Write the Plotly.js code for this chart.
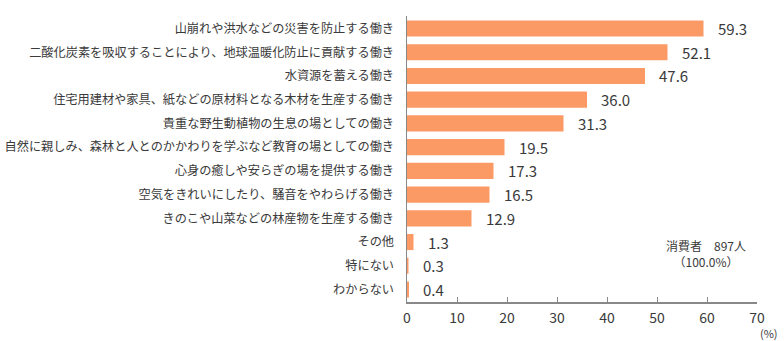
<!DOCTYPE html>
<html><head><meta charset="utf-8">
<script src="https://cdn.plot.ly/plotly-3.0.1.min.js"></script>
<style>html,body{margin:0;padding:0;background:#fff}#c{width:784px;height:341px}</style>
</head><body><div id="c"></div>
<script>
const categories = [
  "山崩れや洪水などの災害を防止する働き",
  "二酸化炭素を吸収することにより、地球温暖化防止に貢献する働き",
  "水資源を蓄える働き",
  "住宅用建材や家具、紙などの原材料となる木材を生産する働き",
  "貴重な野生動植物の生息の場としての働き",
  "自然に親しみ、森林と人とのかかわりを学ぶなど教育の場としての働き",
  "心身の癒しや安らぎの場を提供する働き",
  "空気をきれいにしたり、騒音をやわらげる働き",
  "きのこや山菜などの林産物を生産する働き",
  "その他",
  "特にない",
  "わからない"
];
const values = [59.3, 52.1, 47.6, 36.0, 31.3, 19.5, 17.3, 16.5, 12.9, 1.3, 0.3, 0.4];
const xTicks = [0, 10, 20, 30, 40, 50, 60, 70];
const note = "消費者　897人<br>（100.0%）";
const unitLabel = "(%)";

const font = "'Noto Sans CJK JP', 'Noto Sans', sans-serif";
const annotations = values.map((v, i) => ({
  x: v, y: categories[i], xref: 'x', yref: 'y',
  text: v.toFixed(1), showarrow: false, xanchor: 'left', xshift: 12,
  font: {family: font, size: 15, color: '#3a3a3a'}
}));
annotations.push({xref: 'paper', yref: 'paper', x: 0.855, y: 0.17, text: note, showarrow: false,
  xanchor: 'center', yanchor: 'middle', align: 'center', font: {family: font, size: 12, color: '#3a3a3a'}});
annotations.push({xref: 'paper', yref: 'paper', x: 1.035, y: -0.108, text: unitLabel, showarrow: false,
  xanchor: 'center', yanchor: 'middle', font: {family: font, size: 11, color: '#3a3a3a'}});

Plotly.newPlot('c', [{
  type: 'bar', orientation: 'h', x: values, y: categories,
  marker: {color: '#FC9A66'}, hoverinfo: 'none'
}], {
  width: 784, height: 341,
  margin: {l: 407, r: 27, t: 16, b: 39},
  bargap: 0.32,
  paper_bgcolor: '#fff', plot_bgcolor: '#fff',
  showlegend: false,
  font: {family: font, color: '#3a3a3a'},
  xaxis: {range: [0, 70], tickvals: xTicks, ticks: 'inside', ticklen: 5, tickcolor: '#888',
    showline: true, linecolor: '#888', linewidth: 1.5, showgrid: false, zeroline: false,
    ticklabelstandoff: 3,
    tickfont: {family: font, size: 14, color: '#3a3a3a'}, fixedrange: true},
  yaxis: {autorange: 'reversed', type: 'category', showline: true, linecolor: '#888', linewidth: 1.5,
    ticks: '', showgrid: false, zeroline: false, ticklabelstandoff: 9,
    tickfont: {family: font, size: 12.2, color: '#3a3a3a'}, fixedrange: true},
  annotations: annotations
}, {staticPlot: true});
</script></body></html>
